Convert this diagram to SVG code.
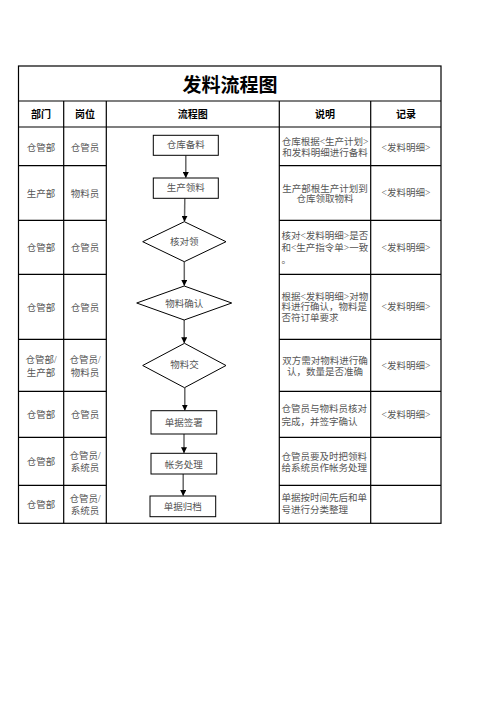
<svg xmlns="http://www.w3.org/2000/svg" width="496" height="702" viewBox="0 0 496 702">
<style>
.grid{stroke:#000;stroke-width:1.2;fill:none}
.t{font-family:"Liberation Serif","Noto Sans CJK SC",serif;font-size:9.5px;fill:#555}
.c{text-anchor:middle}
.h{font-family:"Liberation Sans","Noto Sans CJK SC",sans-serif;font-size:10px;font-weight:bold;fill:#000;text-anchor:middle}
.title{font-family:"Liberation Sans","Noto Sans CJK SC",sans-serif;font-size:19px;font-weight:bold;fill:#000;text-anchor:middle}
.shape{fill:#fff;stroke:#000;stroke-width:1}
.conn{stroke:#666;stroke-width:1.5;fill:none;marker-end:url(#ah)}
</style>
<defs>
<marker id="ah" viewBox="0 0 6 6" refX="5.5" refY="3" markerWidth="4" markerHeight="4" markerUnits="strokeWidth" orient="auto">
<path d="M0,0 L6,3 L0,6 z" fill="#000"/>
</marker>
</defs>
<rect width="496" height="702" fill="#fff"/>
<g id="table">
<rect class="grid" x="18.5" y="66" width="422.5" height="457.3"/>
<line class="grid" x1="18.5" y1="101" x2="441" y2="101"/>
<line class="grid" x1="18.5" y1="127" x2="441" y2="127"/>
<line class="grid" x1="63.7" y1="101" x2="63.7" y2="523.3"/>
<line class="grid" x1="106.3" y1="101" x2="106.3" y2="523.3"/>
<line class="grid" x1="279.3" y1="101" x2="279.3" y2="523.3"/>
<line class="grid" x1="370.7" y1="101" x2="370.7" y2="523.3"/>
<path class="grid" d="M18.5,165.7H106.3M18.5,220.3H106.3M18.5,274.3H106.3M18.5,339.3H106.3M18.5,391.3H106.3M18.5,437.3H106.3M18.5,485.3H106.3"/>
<path class="grid" d="M279.3,165.7H441M279.3,220.3H441M279.3,274.3H441M279.3,339.3H441M279.3,391.3H441M279.3,437.3H441M279.3,485.3H441"/>
<text class="title" x="230" y="92">发料流程图</text>
<text class="h" x="41.1" y="117.5">部门</text>
<text class="h" x="85" y="117.5">岗位</text>
<text class="h" x="192.8" y="117.5">流程图</text>
<text class="h" x="325" y="117.5">说明</text>
<text class="h" x="405.9" y="117.5">记录</text>
</g>
<g id="col-dept" class="t c">
<text x="41.1" y="150.8">仓管部</text>
<text x="41.1" y="196.8">生产部</text>
<text x="41.1" y="250.8">仓管部</text>
<text x="41.1" y="310.8">仓管部</text>
<text x="41.1" y="362.8">仓管部/</text>
<text x="41.1" y="376">生产部</text>
<text x="41.1" y="417.5">仓管部</text>
<text x="41.1" y="465.2">仓管部</text>
<text x="41.1" y="507.5">仓管部</text>
</g>
<g id="col-post" class="t c">
<text x="85" y="150.8">仓管员</text>
<text x="85" y="196.8">物料员</text>
<text x="85" y="250.8">仓管员</text>
<text x="85" y="310.8">仓管员</text>
<text x="85" y="362.8">仓管员/</text>
<text x="85" y="376">物料员</text>
<text x="85" y="417.5">仓管员</text>
<text x="85" y="459.2">仓管员/</text>
<text x="85" y="470.8">系统员</text>
<text x="85" y="501.8">仓管员/</text>
<text x="85" y="513.5">系统员</text>
</g>
<g id="col-desc" class="t">
<text class="c" x="325" y="144.5">仓库根据&lt;生产计划&gt;</text>
<text class="c" x="325" y="155.5">和发料明细进行备料</text>
<text class="c" x="325" y="191.5">生产部根生产计划到</text>
<text class="c" x="325" y="202.2">仓库领取物料</text>
<text x="281.5" y="238.5">核对&lt;发料明细&gt;是否</text>
<text x="281.5" y="250.8">和&lt;生产指令单&gt;一致</text>
<text x="281.5" y="263">。</text>
<text x="281.5" y="299.5">根据&lt;发料明细&gt;对物</text>
<text x="281.5" y="310">料进行确认，物料是</text>
<text x="281.5" y="321.2">否符订单要求</text>
<text class="c" x="325" y="363.8">双方需对物料进行确</text>
<text class="c" x="325" y="374.5">认，数量是否准确</text>
<text x="281.5" y="412.2">仓管员与物料员核对</text>
<text x="281.5" y="424.5">完成，并签字确认</text>
<text x="281.5" y="460.2">仓管员要及时把领料</text>
<text x="281.5" y="470.8">给系统员作帐务处理</text>
<text x="281.5" y="500.8">单据按时间先后和单</text>
<text x="281.5" y="512.8">号进行分类整理</text>
</g>
<g id="col-record" class="t c">
<text x="405.9" y="150.5">&lt;发料明细&gt;</text>
<text x="405.9" y="196.2">&lt;发料明细&gt;</text>
<text x="405.9" y="250.8">&lt;发料明细&gt;</text>
<text x="405.9" y="309.8">&lt;发料明细&gt;</text>
<text x="405.9" y="368.8">&lt;发料明细&gt;</text>
<text x="405.9" y="417.8">&lt;发料明细&gt;</text>
</g>
<g id="connectors">
<line class="conn" x1="185.8" y1="155.3" x2="185.8" y2="177.5"/>
<line class="conn" x1="184.8" y1="198.3" x2="184.5" y2="221.2"/>
<line class="conn" x1="184.3" y1="261.7" x2="184.3" y2="285.5"/>
<line class="conn" x1="184.2" y1="320" x2="184.2" y2="342.8"/>
<line class="conn" x1="184.8" y1="387.7" x2="184.8" y2="410.2"/>
<line class="conn" x1="184" y1="434" x2="184" y2="452.8"/>
<line class="conn" x1="183.2" y1="474" x2="183.2" y2="495.5"/>
</g>
<g id="n1"><rect class="shape" x="153.3" y="135.3" width="65" height="20"/><text class="t c" x="185.8" y="148.2">仓库备料</text></g>
<g id="n2"><rect class="shape" x="153.3" y="178" width="65" height="20.3"/><text class="t c" x="185.8" y="191.2">生产领料</text></g>
<g id="n3"><polygon class="shape" points="184.3,221.7 226,241.7 184.3,261.7 142.7,241.7"/><text class="t c" x="184.3" y="244.5">核对领</text></g>
<g id="n4"><polygon class="shape" points="184.2,286 231.7,303 184.2,320 136.7,303"/><text class="t c" x="184.2" y="306.8">物料确认</text></g>
<g id="n5"><polygon class="shape" points="184.5,343.3 226,365.5 184.5,387.7 142.7,365.5"/><text class="t c" x="184.5" y="367.5">物料交</text></g>
<g id="n6"><rect class="shape" x="151" y="410.7" width="65.7" height="23.3"/><text class="t c" x="183.8" y="426.2">单据签署</text></g>
<g id="n7"><rect class="shape" x="151" y="453.3" width="65.7" height="20.7"/><text class="t c" x="183.8" y="467.5">帐务处理</text></g>
<g id="n8"><rect class="shape" x="150" y="496" width="65.7" height="20.7"/><text class="t c" x="182.8" y="510.2">单据归档</text></g>
</svg>
